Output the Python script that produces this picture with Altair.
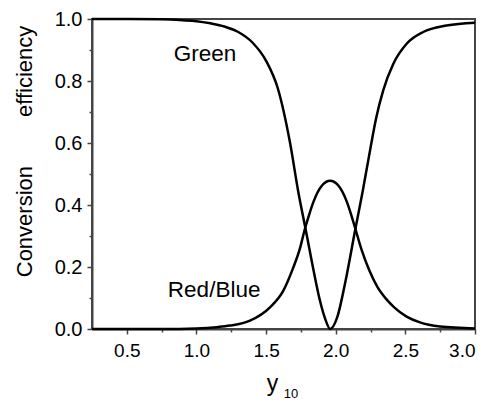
import altair as alt
import pandas as pd

# Green curve
green_x = [0.25, 0.50, 0.75, 0.90, 1.00, 1.10, 1.20, 1.30, 1.40, 1.50, 1.585, 1.671, 1.731,
           1.786, 1.851, 1.887, 1.925, 1.960, 2.011, 2.066, 2.140, 2.193, 2.24, 2.29, 2.341,
           2.413, 2.509, 2.628, 2.796, 3.00]
green_y = [1.000, 1.000, 0.999, 0.996, 0.993, 0.986, 0.976, 0.958, 0.925, 0.865, 0.775, 0.603, 0.443,
           0.317, 0.166, 0.091, 0.032, 0.000, 0.038, 0.145, 0.320, 0.443, 0.560, 0.680, 0.770,
           0.855, 0.920, 0.958, 0.979, 0.988]

# Red/Blue curve
red_x = [0.25, 0.75, 1.00, 1.145, 1.241, 1.384, 1.528, 1.623, 1.695, 1.74, 1.78, 1.81, 1.84,
         1.90, 1.96, 2.02, 2.08, 2.11, 2.14, 2.186, 2.24, 2.30, 2.36, 2.42, 2.509, 2.60, 2.748, 3.00]
red_y = [0.000, 0.000, 0.002, 0.006, 0.011, 0.027, 0.070, 0.123, 0.198, 0.255, 0.325, 0.370, 0.410,
         0.462, 0.478, 0.462, 0.410, 0.370, 0.325, 0.255, 0.190, 0.135, 0.098, 0.070, 0.040, 0.022,
         0.008, 0.002]

labels = ["Green", "Red/Blue"]
label_x = [1.061, 1.127]
label_y = [0.886, 0.126]

x_major = [0.5, 1.0, 1.5, 2.0, 2.5, 3.0]
x_minor = [0.75, 1.25, 1.75, 2.25, 2.75]
y_major = [0.0, 0.2, 0.4, 0.6, 0.8, 1.0]
y_minor = [0.1, 0.3, 0.5, 0.7, 0.9]

FONT = "Liberation Sans"
AX = "#444444"

curves = pd.concat([
    pd.DataFrame({"x": green_x, "v": green_y, "series": "Green"}),
    pd.DataFrame({"x": red_x, "v": red_y, "series": "Red/Blue"}),
])
lab = pd.DataFrame({"x": label_x, "v": label_y, "text": labels})

xscale = alt.Scale(domain=[0.25, 3.0], nice=False, zero=False)
yscale = alt.Scale(domain=[0.0, 1.0], nice=False, zero=False)

nbsp = "\u00a0" * 8

lines = alt.Chart(curves).mark_line(
    color="black", strokeWidth=2.5, interpolate="monotone"
).encode(
    x=alt.X("x:Q", scale=xscale, axis=alt.Axis(
        orient="bottom", values=x_major, format=".1f", tickSize=5, tickWidth=1.5,
        tickColor=AX, domainColor=AX, domainWidth=2, labelFontSize=19, labelFont=FONT,
        labelColor="black", labelPadding=7, grid=False,
        title="y", titleFont=FONT, titleFontSize=23, titleFontWeight="normal",
        titleColor="black", titleX=180, titleY=61, titleBaseline="alphabetic",
        titleAlign="center")),
    y=alt.Y("v:Q", scale=yscale, axis=alt.Axis(
        orient="left", values=y_major, format=".1f", tickSize=5, tickWidth=1.5,
        tickColor=AX, domainColor=AX, domainWidth=2, labelFontSize=20, labelFont=FONT,
        labelColor="black", labelPadding=5, grid=False,
        title="Conversion" + nbsp + "efficiency", titleFont=FONT, titleFontSize=22,
        titleFontWeight="normal", titleColor="black", titleAngle=270,
        titleX=-61, titleY=132, titleBaseline="alphabetic", titleAlign="center")),
    detail="series:N",
)

texts = alt.Chart(lab).mark_text(
    font=FONT, fontSize=22.5, color="black", baseline="middle", align="center"
).encode(
    x=alt.X("x:Q", scale=xscale, axis=alt.Axis(
        orient="bottom", values=x_minor, labels=False, tickSize=3, tickWidth=1.5,
        tickColor=AX, domain=False, grid=False,
        title="10", titleFont=FONT, titleFontSize=13, titleFontWeight="normal",
        titleColor="black", titleX=198.5, titleY=68.5, titleBaseline="alphabetic",
        titleAlign="center")),
    y=alt.Y("v:Q", scale=yscale, axis=alt.Axis(
        orient="left", values=y_minor, labels=False, tickSize=3, tickWidth=1.5,
        tickColor=AX, domain=False, grid=False, title="")),
    text="text:N",
)

chart = alt.layer(lines, texts).resolve_axis(
    x="independent", y="independent"
).properties(
    width=383, height=310,
    autosize=alt.AutoSizeParams(type="none"),
    padding={"left": 84, "top": 11, "right": 3, "bottom": 72},
    background="white",
).configure_view(stroke=AX, strokeWidth=2)

chart.save("out.html", embed_options={"renderer": "svg", "actions": False})
